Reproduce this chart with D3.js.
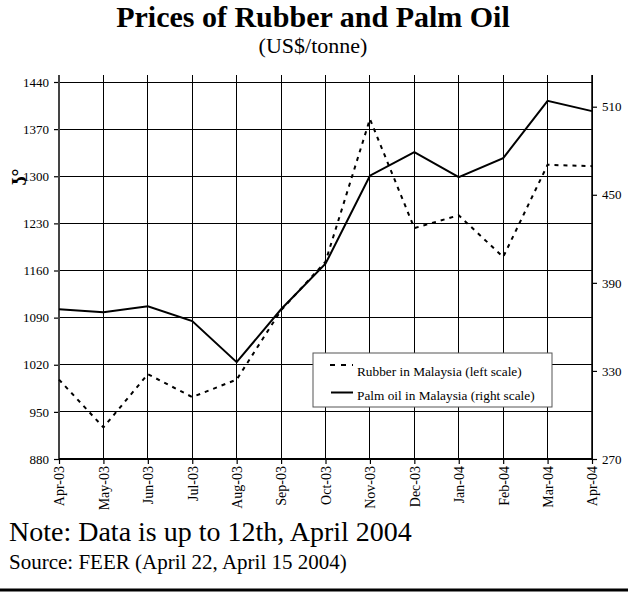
<!DOCTYPE html>
<html>
<head>
<meta charset="utf-8">
<script src="https://cdn.jsdelivr.net/npm/d3@7"></script>
<style>
  html, body { margin: 0; padding: 0; background: #fff; }
  svg { display: block; }
  svg text { font-family: "Liberation Serif", "Times New Roman", serif; fill: #000; }
</style>
</head>
<body>
<svg id="chart" width="628" height="596"></svg>
<script>
// ---- data ----
const months = ["Apr-03","May-03","Jun-03","Jul-03","Aug-03","Sep-03","Oct-03","Nov-03","Dec-03","Jan-04","Feb-04","Mar-04","Apr-04"];
const rubber = [998, 927, 1006, 972, 998, 1101, 1173, 1385, 1223, 1242, 1180, 1317, 1315];
const palmOil = [372, 370, 374, 364, 336, 372, 403, 463, 479, 462, 475, 514, 507];
const leftTicks = [880, 950, 1020, 1090, 1160, 1230, 1300, 1370, 1440];
const rightTicks = [270, 330, 390, 450, 510];
const seriesNames = ["Rubber in Malaysia (left scale)", "Palm oil in Malaysia (right scale)"];

// ---- layout ----
const FONT = '"Liberation Serif", "Times New Roman", serif';
const svg = d3.select("#chart").attr("font-family", FONT);
const L = 59, R = 592, B = 459, T = 75;

const x = d3.scalePoint().domain(months).range([L, R]);
const yL = d3.scaleLinear().domain([880, 1440]).range([B, 82]);
const yR = d3.scaleLinear().domain([270, 510]).range([B, 106.7]);

// titles
svg.append("text").attr("x", 313).attr("y", 27).attr("text-anchor", "middle")
  .style("font-size", "30px").style("font-weight", "bold").text("Prices of Rubber and Palm Oil");
svg.append("text").attr("x", 313).attr("y", 53).attr("text-anchor", "middle")
  .style("font-size", "22px").text("(US$/tonne)");

// gridlines
const g = svg.append("g");
g.selectAll("line.hg").data(leftTicks).join("line")
  .attr("x1", L).attr("x2", R).attr("y1", d => yL(d)).attr("y2", d => yL(d))
  .attr("stroke", "#000").attr("stroke-width", 1).attr("shape-rendering", "crispEdges");
g.selectAll("line.vg").data(months).join("line")
  .attr("x1", d => x(d)).attr("x2", d => x(d)).attr("y1", T).attr("y2", B)
  .attr("stroke", "#000").attr("stroke-width", 1).attr("shape-rendering", "crispEdges");

// axes
const axL = svg.append("g").attr("transform", `translate(${L},0)`)
  .call(d3.axisLeft(yL).tickValues(leftTicks).tickSize(5).tickPadding(5).tickFormat(d3.format("d")));
axL.select(".domain").remove();
svg.append("line").attr("x1", L).attr("x2", L).attr("y1", T).attr("y2", B)
  .attr("stroke", "#444").attr("stroke-width", 2);

const axR = svg.append("g").attr("transform", `translate(${R},0)`)
  .call(d3.axisRight(yR).tickValues(rightTicks).tickSize(5).tickPadding(5).tickFormat(d3.format("d")));
axR.select(".domain").remove();
svg.append("line").attr("x1", R).attr("x2", R).attr("y1", T).attr("y2", B)
  .attr("stroke", "#000").attr("stroke-width", 1.5);

const axB = svg.append("g").attr("transform", `translate(0,${B})`)
  .call(d3.axisBottom(x).tickSize(5).tickPadding(4));
axB.select(".domain").remove();
svg.append("line").attr("x1", L).attr("x2", R).attr("y1", B).attr("y2", B)
  .attr("stroke", "#000").attr("stroke-width", 2);
axB.selectAll("text")
  .attr("transform", "rotate(-90)")
  .attr("text-anchor", "end")
  .attr("x", -7).attr("y", 0).attr("dy", "0.35em");

[axL, axR, axB].forEach(a => {
  a.attr("font-family", FONT);
  a.selectAll("text").attr("font-family", FONT).style("font-family", FONT)
    .style("font-size", "13px").attr("fill", "#000");
  a.selectAll(".tick line").attr("stroke", "#000").attr("stroke-width", 1.2);
});
axB.selectAll("text").style("font-size", "14px");

// y-axis label
svg.append("text").attr("transform", "translate(26,177) rotate(-90)")
  .attr("text-anchor", "middle").style("font-size", "20px").style("font-weight", "bold")
  .text("ʖ°");

// lines
const lineL = d3.line().x((d, i) => x(months[i])).y(d => yL(d));
const lineR = d3.line().x((d, i) => x(months[i])).y(d => yR(d));
svg.append("path").datum(rubber).attr("d", lineL).attr("fill", "none")
  .attr("stroke", "#000").attr("stroke-width", 2).attr("stroke-dasharray", "4,5");
svg.append("path").datum(palmOil).attr("d", lineR).attr("fill", "none")
  .attr("stroke", "#000").attr("stroke-width", 2);

// legend
const lg = svg.append("g");
lg.append("rect").attr("x", 313).attr("y", 353).attr("width", 239).attr("height", 54)
  .attr("fill", "#fff").attr("stroke", "#555").attr("stroke-width", 1);
lg.append("line").attr("x1", 330).attr("x2", 353).attr("y1", 365).attr("y2", 365)
  .attr("stroke", "#000").attr("stroke-width", 2).attr("stroke-dasharray", "5,6");
lg.append("line").attr("x1", 331).attr("x2", 353).attr("y1", 392.5).attr("y2", 392.5)
  .attr("stroke", "#000").attr("stroke-width", 2);
lg.append("text").attr("x", 357).attr("y", 376).style("font-size", "13.3px").text(seriesNames[0]);
lg.append("text").attr("x", 357).attr("y", 400).style("font-size", "13.3px").text(seriesNames[1]);

// notes
svg.append("text").attr("x", 9).attr("y", 541).style("font-size", "28px")
  .text("Note: Data is up to 12th, April 2004");
svg.append("text").attr("x", 9).attr("y", 569).style("font-size", "21px")
  .text("Source: FEER (April 22, April 15 2004)");

// bottom rule
svg.append("line").attr("x1", 0).attr("x2", 628).attr("y1", 590).attr("y2", 590)
  .attr("stroke", "#000").attr("stroke-width", 3);
</script>
</body>
</html>
